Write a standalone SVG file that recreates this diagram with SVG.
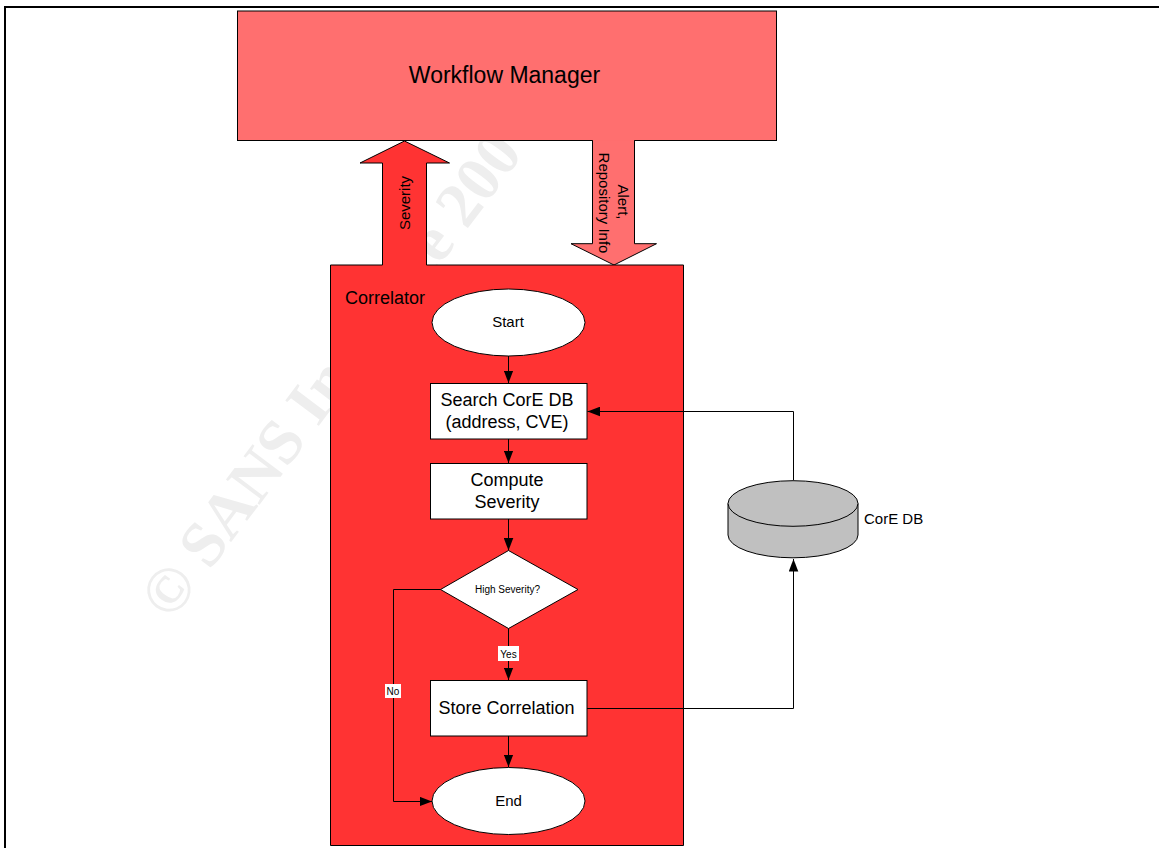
<svg xmlns="http://www.w3.org/2000/svg" width="1159" height="848" viewBox="0 0 1159 848">
<defs>
<marker id="ah" markerUnits="userSpaceOnUse" markerWidth="13" markerHeight="10" refX="12.5" refY="5" orient="auto"><path d="M0,0.2 L12.5,5 L0,9.8 Z" fill="#000"/></marker>
</defs>
<style>
text{font-family:"Liberation Sans",Arial,sans-serif;fill:#000}
.s{stroke:#000;stroke-width:1}
.w{fill:#fff}
.c{text-anchor:middle}
.f18{font-size:18px}.f15{font-size:15px}.f10{font-size:10px}
.con{fill:none;stroke:#000;stroke-width:1}
</style>
<rect width="1159" height="848" fill="#fff"/>
<g id="watermark"><text x="0" y="0" transform="translate(171,622) rotate(-53)" style="font-family:'Liberation Serif',serif;font-weight:bold;font-size:64px;fill:#eeeeee">© SANS Institute 200</text></g>
<path id="frame" d="M5,848 V7 H1159" fill="none" stroke="#000" stroke-width="2"/>
<g id="workflow-manager"><rect class="s" x="237.5" y="11" width="539" height="129.5" fill="#ff6f6f"/><text class="c" x="504.5" y="83" font-size="23">Workflow Manager</text></g>
<g id="severity-arrow"><polygon class="s" points="404.5,141 449.5,163 426.5,163 426.5,266 382.5,266 382.5,163 360,163" fill="#ff3333"/></g>
<g id="alert-arrow"><rect x="593" y="139" width="41" height="3" fill="#ff6f6f"/><path class="s" d="M592.5,140.5 V243.7 H571 L614,265 L656.5,243.7 H634.5 V140.5" fill="#ff6f6f"/></g>
<g id="correlator"><path class="s" d="M382.5,265 H330.5 V845.5 H683.5 V265 H426.5" fill="#ff3333"/><rect x="383" y="262" width="43" height="6" fill="#ff3333"/><text class="f18" x="345" y="304">Correlator</text></g>
<text class="c f15" transform="translate(410,203) rotate(-90)">Severity</text>
<g class="f15" id="alert-label"><text class="c" transform="translate(617.5,202) rotate(90)">Alert,</text><text class="c" transform="translate(598.5,203) rotate(90)">Repository Info</text></g>
<g id="connectors">
<path class="con" marker-end="url(#ah)" d="M508.5,356 V383"/>
<path class="con" marker-end="url(#ah)" d="M508.5,439 V463"/>
<path class="con" marker-end="url(#ah)" d="M508.5,519 V550.5"/>
<path class="con" marker-end="url(#ah)" d="M508.5,628 V680"/>
<path class="con" marker-end="url(#ah)" d="M508.5,736 V767"/>
<path class="con" marker-end="url(#ah)" d="M441,589.5 H393.5 V801.5 H432"/>
<path class="con" marker-end="url(#ah)" d="M587,708.5 H793.5 V559"/>
<path class="con" marker-end="url(#ah)" d="M793.5,480 V411.5 H587.5"/>
</g>
<g id="start"><ellipse class="s w" cx="508.5" cy="322.5" rx="76.5" ry="33.5"/><text class="c f15" x="508" y="327">Start</text></g>
<g id="search"><rect class="s w" x="430.5" y="383.5" width="156.5" height="55.5"/><text class="c f18" x="507" y="406">Search CorE DB</text><text class="c f18" x="507" y="428">(address, CVE)</text></g>
<g id="compute"><rect class="s w" x="430.5" y="463.5" width="156.5" height="55.5"/><text class="c f18" x="507" y="486">Compute</text><text class="c f18" x="507" y="508">Severity</text></g>
<g id="decision"><polygon class="s w" points="508.5,550.5 578,589.5 508.5,628.5 440.5,589.5"/><text class="c f10" x="507.5" y="593">High Severity?</text></g>
<g id="store"><rect class="s w" x="430.5" y="680.5" width="156.5" height="55.5"/><text class="c f18" x="506.5" y="714">Store Correlation</text></g>
<g id="end"><ellipse class="s w" cx="508.5" cy="801" rx="76.5" ry="33.5"/><text class="c f15" x="508.5" y="806">End</text></g>
<g id="core-db"><path class="s" d="M728,503.5 V535 A65,22.8 0 0 0 858,535 V503.5 Z" fill="#c0c0c0"/><ellipse class="s" cx="793" cy="503.5" rx="65" ry="22.8" fill="#c0c0c0"/><text class="f15" x="864" y="524">CorE DB</text></g>
<g id="label-yes"><rect class="w" x="498" y="646" width="21" height="15"/><text class="c f10" x="508.5" y="658">Yes</text></g>
<g id="label-no"><rect class="w" x="385" y="684" width="16" height="14"/><text class="c f10" x="393" y="695">No</text></g>
</svg>
